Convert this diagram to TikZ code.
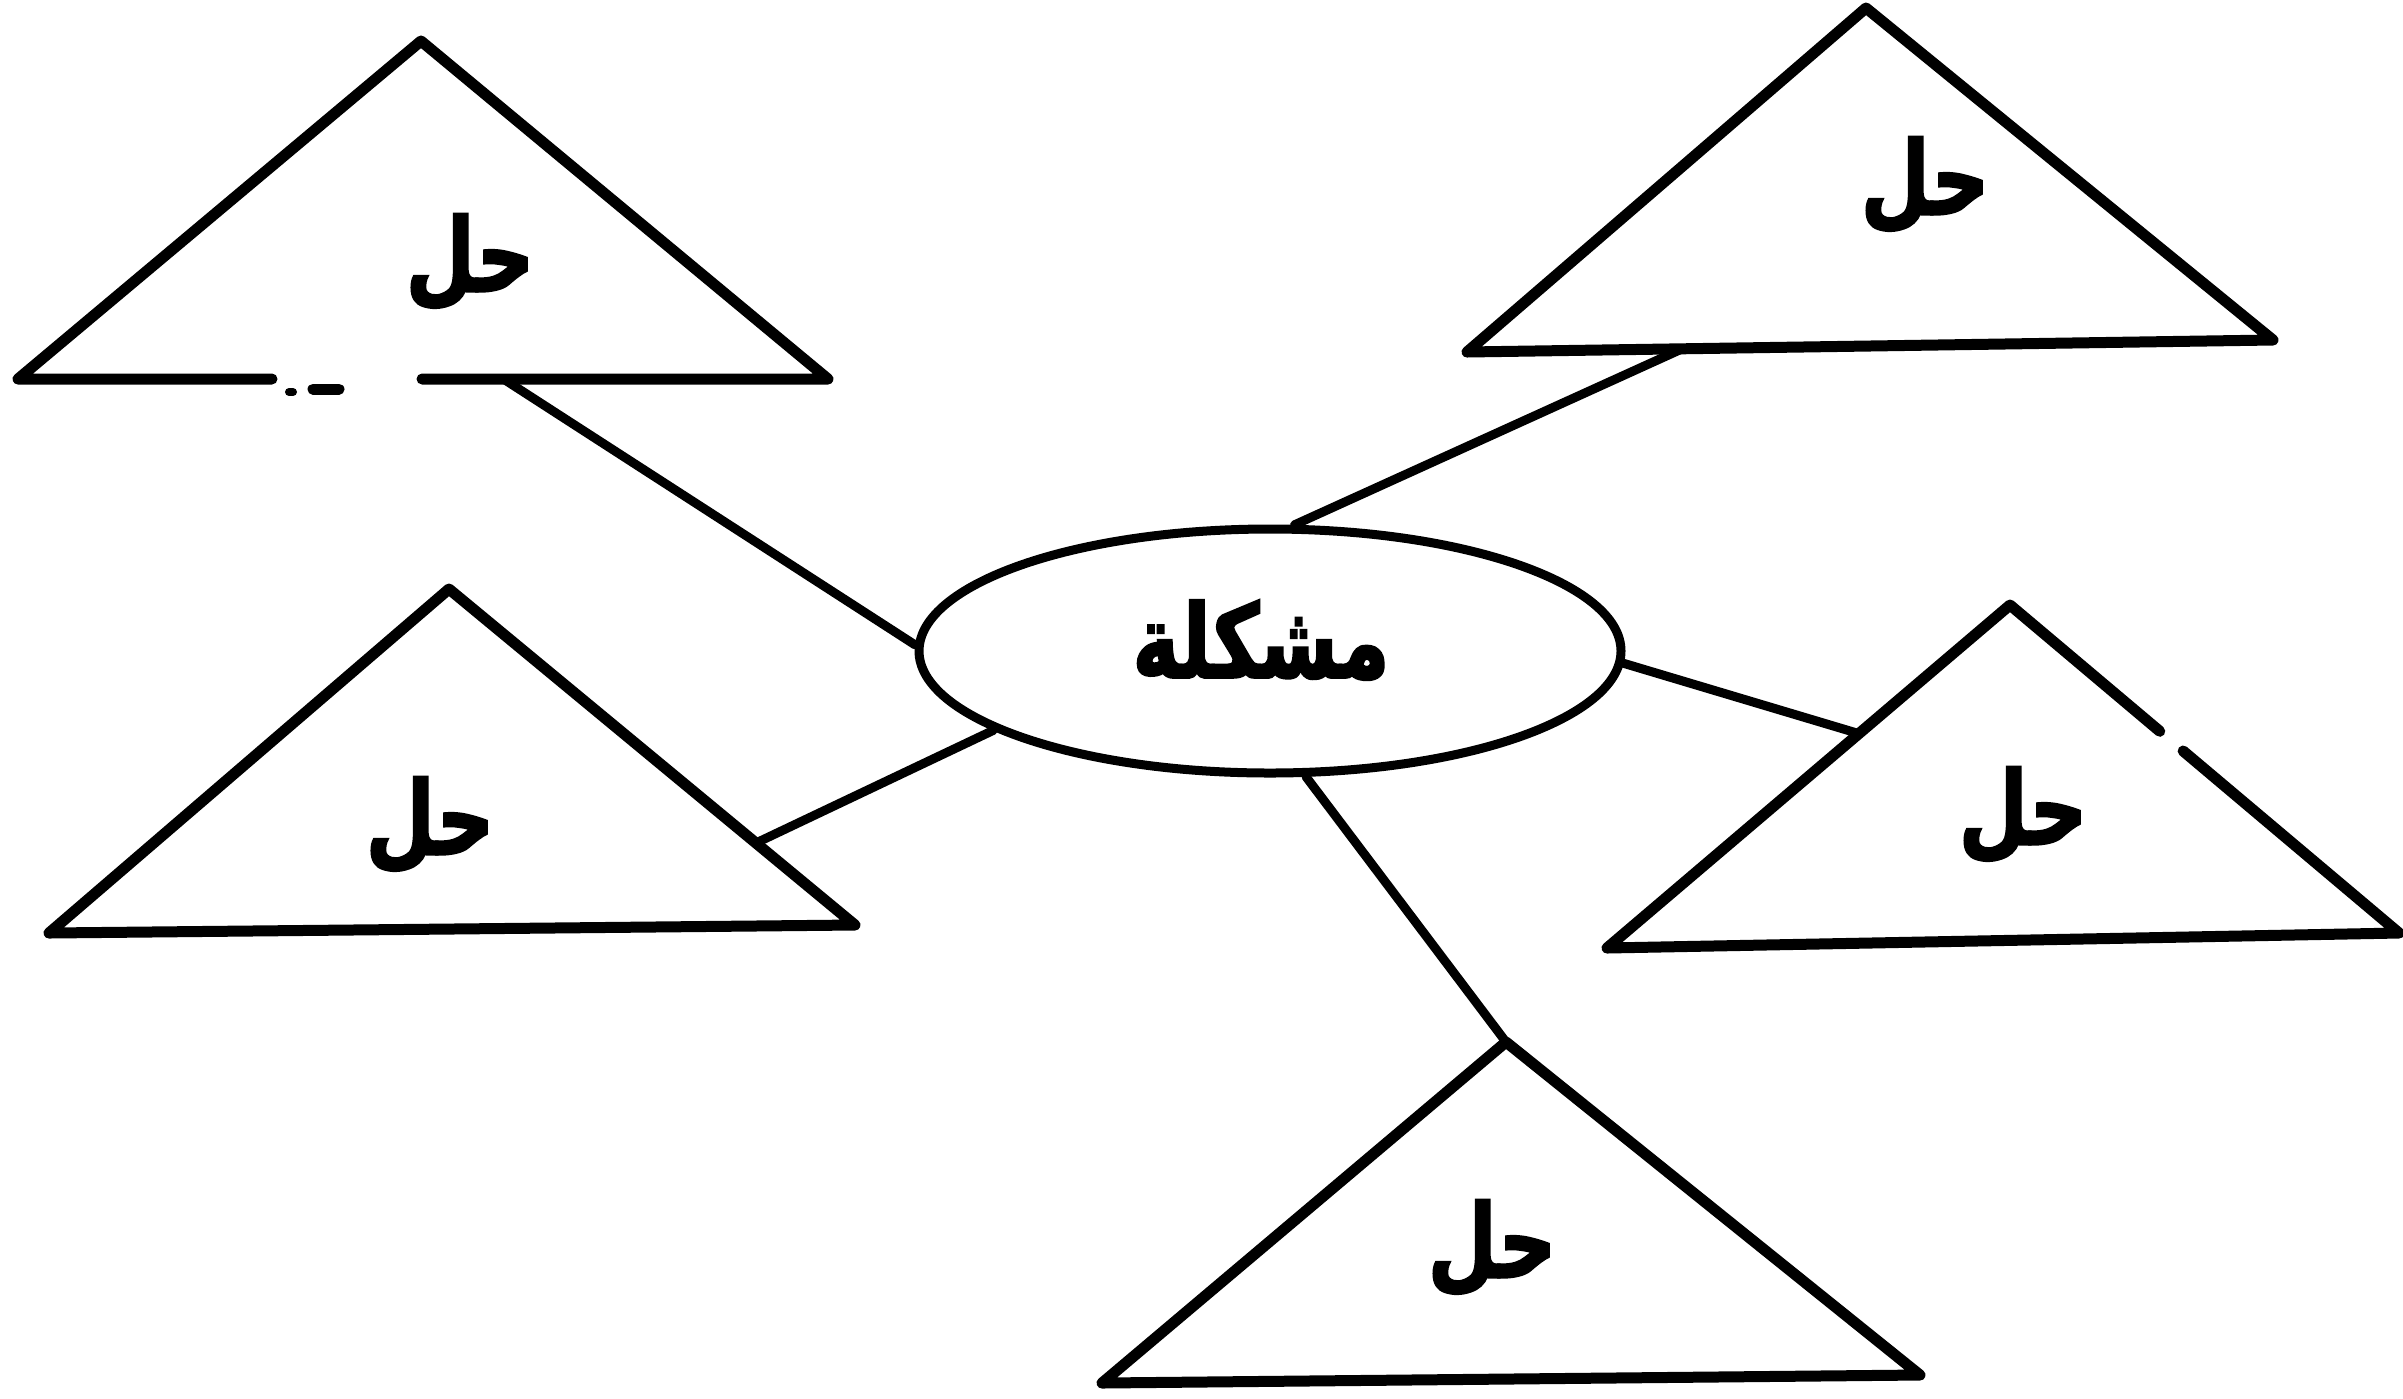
\documentclass[tikz,border=0pt]{standalone}
\usepackage{fontspec}
\usetikzlibrary{shapes.geometric,calc}
\newfontfamily\arabicfont[Script=Arabic, BoldFeatures={FakeBold=2.5}]{DejaVu Sans}
\TeXXeTstate=1
\newcommand{\artext}[1]{\scalebox{0.78}[1]{\beginR #1\endR}}
\begin{document}
\begin{tikzpicture}[x=0.1mm,y=-0.1mm,
  shapeline/.style={line width=1.1mm, line join=round, line cap=round},
  link/.style={line width=0.9mm, line cap=round},
  lbl/.style={font={\arabicfont\bfseries\fontsize{29}{33}\selectfont}, inner sep=0pt},
  probnode/.style={draw, ellipse, line width=0.9mm, minimum width=70.2mm, minimum height=24.4mm, inner sep=0pt}]
\useasboundingbox (0,0) rectangle (2403,1398);

% triangle vertices
\coordinate (t1a) at (421,41);   \coordinate (t1l) at (18,379);   \coordinate (t1r) at (828,379);
\coordinate (t2a) at (1866,8);   \coordinate (t2l) at (1467,352); \coordinate (t2r) at (2273,340);
\coordinate (t3a) at (449,589);  \coordinate (t3l) at (49,933);   \coordinate (t3r) at (855,925);
\coordinate (t4a) at (2010,605); \coordinate (t4l) at (1607,948); \coordinate (t4r) at (2399,933);
\coordinate (t5a) at (1506,1042);\coordinate (t5l) at (1102,1383);\coordinate (t5r) at (1920,1375);

% triangle 1 (base broken)
\coordinate (t1g1) at (272,379); \coordinate (t1g2) at (422,379);
\draw[shapeline] (t1g1) -- (t1l) -- (t1a) -- (t1r) -- (t1g2);
\coordinate (t1d1) at (313,389); \coordinate (t1d2) at (339,389);
\draw[shapeline] (t1d1) -- (t1d2);
\coordinate (t1e1) at (289,392); \coordinate (t1e2) at (293,392);
\draw[line width=0.8mm, line cap=round] (t1e1) -- (t1e2);
% triangle 2
\draw[shapeline] (t2a) -- (t2r) -- (t2l) -- cycle;
% triangle 3
\draw[shapeline] (t3a) -- (t3r) -- (t3l) -- cycle;
% triangle 4 (right side broken)
\draw[shapeline] ($(t4a)!0.385!(t4r)$) -- (t4a) -- (t4l) -- (t4r) -- ($(t4a)!0.445!(t4r)$);
% triangle 5
\draw[shapeline] (t5a) -- (t5r) -- (t5l) -- cycle;

% labels
\node[lbl] (s1) at (470,262) {\artext{حل}};
\node[lbl] (s2) at (1925,185) {\artext{حل}};
\node[lbl] (s3) at (430,825) {\artext{حل}};
\node[lbl] (s4) at (2023,815) {\artext{حل}};
\node[lbl] (s5) at (1492,1248) {\artext{حل}};

% central problem
\node[probnode] (prob) at (1270,651) {};
\node[lbl] (probtext) at (1261,640) {\artext{مشكلة}};

% connection points on triangles
\coordinate (c1) at (505,380);
\coordinate (c2) at ($(t2l)!0.267!(t2r)$);
\coordinate (c3) at ($(t3a)!0.756!(t3r)$);
\coordinate (c4) at ($(t4a)!0.375!(t4l)$);

\draw[link] (c1) -- (prob.179);
\draw[link] (c2) -- (prob.79);
\draw[link] (prob.196) -- (c3);
\draw[link] (prob.358) -- (c4);
\draw[link] (prob.286) -- (t5a);
\end{tikzpicture}
\end{document}
